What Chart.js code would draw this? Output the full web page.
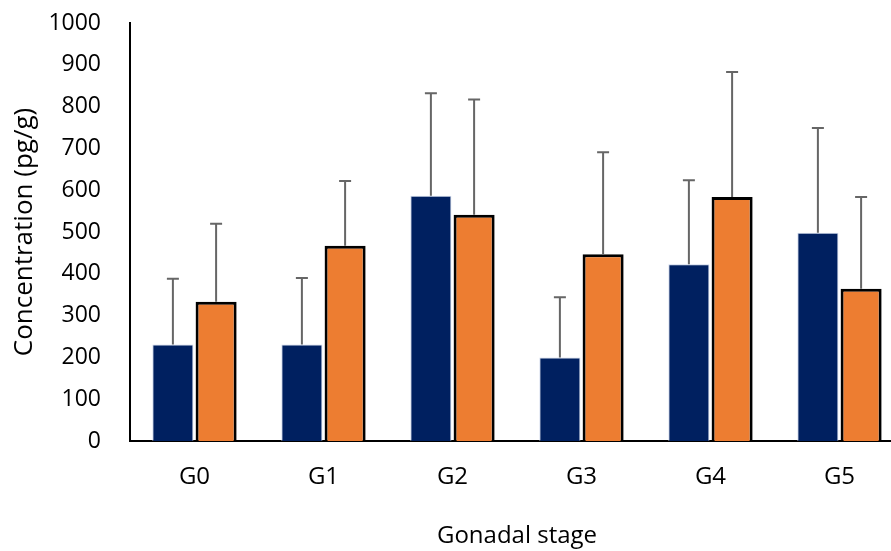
<!DOCTYPE html>
<html>
<head>
<meta charset="utf-8">
<script src="https://cdn.jsdelivr.net/npm/chart.js@4"></script>
<style>
    html, body { margin: 0; padding: 0; background: #fff; overflow: hidden; }
    #wrap { width: 904px; height: 551px; position: relative; }
</style>
</head>
<body>
<div id="wrap"><canvas id="chart"></canvas></div>
<script>
// Données
const stages = ['G0', 'G1', 'G2', 'G3', 'G4', 'G5'];
const blueValues = [231, 231, 587, 200, 423, 498];
const blueErrors = [157, 159, 245, 144, 201, 251];
const orangeValues = [333, 467, 541, 447, 584, 364];
const orangeErrors = [187, 155, 276, 244, 299, 220];
const yTicks = [0, 100, 200, 300, 400, 500, 600, 700, 800, 900, 1000];

const FONT = "'Open Sans', sans-serif";

// Barres d'erreur (seulement vers le haut)
const errorBarPlugin = {
    id: 'errorBars',
    afterDatasetsDraw(chart) {
        const ctx = chart.ctx;
        const yScale = chart.scales.y;
        chart.data.datasets.forEach((ds, i) => {
            const meta = chart.getDatasetMeta(i);
            meta.data.forEach((bar, j) => {
                const top = yScale.getPixelForValue(ds.data[j] + ds.errors[j]);
                ctx.save();
                ctx.strokeStyle = '#666666';
                ctx.lineWidth = 2;
                ctx.beginPath();
                ctx.moveTo(bar.x, bar.y);
                ctx.lineTo(bar.x, top);
                ctx.moveTo(bar.x - 6, top);
                ctx.lineTo(bar.x + 6, top);
                ctx.stroke();
                ctx.restore();
            });
        });
    }
};

new Chart(document.getElementById('chart'), {
    type: 'bar',
    data: {
        labels: stages,
        datasets: [
            {
                label: 'Série 1',
                data: blueValues,
                errors: blueErrors,
                backgroundColor: '#002060',
                borderColor: '#c9d3e8',
                borderWidth: 1,
                barPercentage: 0.95,
                categoryPercentage: 0.67
            },
            {
                label: 'Série 2',
                data: orangeValues,
                errors: orangeErrors,
                backgroundColor: '#ED7D31',
                borderColor: '#000000',
                borderWidth: 3,
                barPercentage: 0.95,
                categoryPercentage: 0.67
            }
        ]
    },
    options: {
        responsive: true,
        maintainAspectRatio: false,
        animation: false,
        layout: { padding: { top: 23, right: 0, bottom: 0, left: 0 } },
        plugins: {
            legend: { display: false },
            tooltip: { enabled: false }
        },
        scales: {
            x: {
                grid: { display: false, drawTicks: false },
                border: { color: '#000', width: 2 },
                ticks: { color: '#000', padding: 22, font: { family: FONT, size: 24 } },
                title: {
                    display: true,
                    text: 'Gonadal stage',
                    color: '#000',
                    padding: { top: 0, bottom: 0 },
                    font: { family: FONT, size: 24 }
                },
                afterFit(scale) { scale.height = 110; }
            },
            y: {
                min: 0,
                max: 1000,
                grid: { display: false, drawTicks: false },
                border: { color: '#000', width: 2 },
                afterBuildTicks(scale) { scale.ticks = yTicks.map(v => ({ value: v })); },
                ticks: {
                    color: '#000',
                    padding: 29,
                    font: { family: FONT, size: 23 },
                    callback: (value) => String(value)
                },
                title: {
                    display: true,
                    text: 'Concentration (pg/g)',
                    color: '#000',
                    padding: { top: 9, bottom: 0 },
                    font: { family: FONT, size: 26 }
                },
                afterFit(scale) {
                    scale.width = 130;
                    scale.paddingTop = 0;
                    scale.paddingBottom = 0;
                }
            }
        }
    },
    plugins: [errorBarPlugin]
});
</script>
</body>
</html>
